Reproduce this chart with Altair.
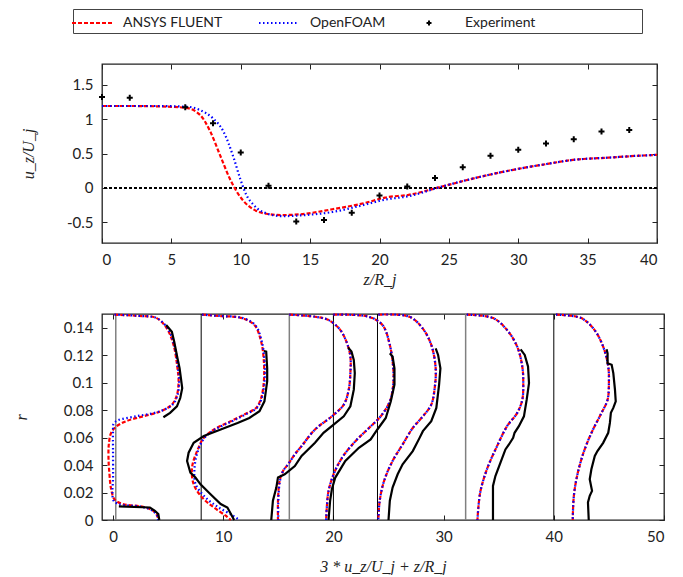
import altair as alt
import pandas as pd

# ---------------- top panel: centreline velocity ----------------
FLUENT_Z = [0, 2, 4, 6, 7.07, 7.8, 8.5, 9.2, 9.7, 10.2, 10.9, 11.85, 13, 14.2, 16.6, 19, 20.4, 22.1, 24.5, 26.9, 29.3, 31.7, 34.1, 36.5, 38.9, 40]
FLUENT_U = [1.19, 1.19, 1.185, 1.165, 1.06, 0.82, 0.48, 0.14, -0.05, -0.19, -0.31, -0.375, -0.394, -0.385, -0.31, -0.216, -0.14, -0.1, 0.02, 0.144, 0.25, 0.336, 0.41, 0.44, 0.47, 0.48]
OPENFOAM_Z = [0, 2, 4, 6, 6.5, 7.07, 8.0, 8.75, 9.5, 9.95, 10.4, 10.9, 11.6, 13, 14.2, 16.6, 19, 20.4, 22.1, 24.5, 26.9, 29.3, 31.7, 34.1, 36.5, 38.9, 40]
OPENFOAM_U = [1.19, 1.19, 1.19, 1.18, 1.17, 1.13, 1.01, 0.82, 0.43, 0.14, -0.1, -0.24, -0.35, -0.41, -0.40, -0.35, -0.24, -0.17, -0.12, 0.02, 0.144, 0.25, 0.336, 0.41, 0.44, 0.47, 0.48]
EXP_Z = [0, 2, 6, 8, 10, 12, 14, 16, 18, 20, 22, 24, 26, 28, 30, 32, 34, 36, 38]
EXP_U = [1.32, 1.31, 1.17, 0.94, 0.515, 0.03, -0.486, -0.466, -0.36, -0.11, 0.02, 0.144, 0.30, 0.466, 0.553, 0.645, 0.707, 0.818, 0.84]

TOP_X_TICKS = [0, 5, 10, 15, 20, 25, 30, 35, 40]
TOP_Y_TICKS = [-0.5, 0, 0.5, 1, 1.5]
SERIES = ["ANSYS FLUENT", "OpenFOAM", "Experiment"]

# ---------------- bottom panel: radial profiles (x = 3*u/Uj + z/Rj) ----------------
GRAY_LINES_Z = [0.25, 16, 32]
BLACK_LINES_Z = [8, 20, 24, 40]

F1_X = [0.14, 2.13, 3.96, 4.88, 5.49, 5.85, 5.95, 5.8, 5.34, 4.27, 2.73, 1.21, 0.29, -0.17, -0.38, -0.41, -0.32, -0.17, 0.14, 0.9, 2.73, 3.65, 4.02, 4.1]
F1_R = [0.1495, 0.1487, 0.147, 0.1395, 0.1275, 0.1105, 0.101, 0.091, 0.084, 0.079, 0.0755, 0.072, 0.068, 0.0635, 0.055, 0.045, 0.033, 0.0225, 0.015, 0.0116, 0.0096, 0.0067, 0.003, 0.0]
O1_X = [0.14, 2.13, 3.96, 4.95, 5.55, 5.9, 6.0, 5.85, 5.4, 4.2, 2.1, 0.44, 0.05, 0.0, 0.0, 0.0, -0.05, 0.05, 0.5, 2.6, 3.6, 4.0, 4.1]
O1_R = [0.1495, 0.1487, 0.147, 0.1395, 0.1275, 0.1105, 0.101, 0.091, 0.084, 0.079, 0.0755, 0.0726, 0.07, 0.065, 0.05, 0.03, 0.02, 0.014, 0.0116, 0.0096, 0.0067, 0.003, 0.0]
E1A_X = [4.57, 5.18, 5.8, 6.1, 6.28, 6.16, 6.04, 5.85, 5.55, 5.34, 4.82]
E1A_R = [0.0748, 0.078, 0.0828, 0.0888, 0.096, 0.1033, 0.1105, 0.1178, 0.13, 0.137, 0.142]
E1B_X = [0.53, 3.35, 3.8, 4.11, 4.2]
E1B_R = [0.0099, 0.0091, 0.0067, 0.0043, 0.0]

F2_X = [8.09, 9.77, 11.6, 12.83, 13.44, 13.69, 13.69, 13.44, 12.98, 11.9, 10.69, 9.16, 8.24, 7.63, 7.17, 7.32, 8.09, 9.16, 10.23, 10.69]
F2_R = [0.1495, 0.1485, 0.1472, 0.142, 0.13, 0.1154, 0.101, 0.0888, 0.0816, 0.0768, 0.0719, 0.0659, 0.0598, 0.0502, 0.0381, 0.026, 0.0164, 0.0091, 0.0031, 0.0]
O2_X = [8.09, 9.8, 11.7, 12.9, 13.5, 13.75, 13.75, 13.5, 13.05, 12.0, 10.8, 9.25, 8.3, 7.7, 7.4, 7.5, 8.4, 9.6, 10.9, 11.45]
O2_R = [0.1495, 0.1485, 0.1472, 0.142, 0.13, 0.1154, 0.101, 0.0888, 0.0816, 0.0768, 0.0719, 0.0659, 0.0598, 0.0502, 0.0381, 0.026, 0.0164, 0.0091, 0.0031, 0.0]
E2_X = [13.69, 13.9, 13.99, 13.99, 13.74, 13.29, 12.37, 11.3, 9.77, 8.24, 7.32, 6.86, 6.72, 7.02, 7.48, 7.94, 8.85, 9.77, 10.38, 10.99]
E2_R = [0.1231, 0.1226, 0.1105, 0.101, 0.0864, 0.0792, 0.0743, 0.0707, 0.0659, 0.0611, 0.0562, 0.049, 0.043, 0.0345, 0.0309, 0.026, 0.0188, 0.0116, 0.0091, 0.0]

F3_X = [16.0, 18.33, 19.56, 20.63, 21.24, 21.54, 21.54, 21.39, 20.94, 19.86, 18.33, 17.11, 16.5, 15.89, 15.43, 15.12, 14.97, 14.97]
F3_R = [0.1495, 0.148, 0.1456, 0.1383, 0.1286, 0.119, 0.107, 0.0949, 0.084, 0.0755, 0.0659, 0.0538, 0.0478, 0.0406, 0.0357, 0.0285, 0.014, 0.0]
O3_X = [16.0, 18.33, 19.56, 20.63, 21.24, 21.54, 21.54, 21.39, 20.94, 19.86, 18.33, 17.11, 16.5, 15.89, 15.43, 15.15, 15.0, 15.0]
O3_R = [0.1495, 0.148, 0.1456, 0.1383, 0.1286, 0.119, 0.107, 0.0949, 0.084, 0.0755, 0.0659, 0.0538, 0.0478, 0.0406, 0.0357, 0.0285, 0.014, 0.0]
E3_X = [21.33, 21.64, 21.85, 21.94, 21.85, 21.54, 20.94, 20.02, 19.1, 18.33, 17.11, 16.5, 15.58, 14.97, 14.82, 14.51, 14.36]
E3_R = [0.1257, 0.1226, 0.1166, 0.107, 0.0949, 0.0828, 0.0755, 0.0695, 0.0635, 0.0562, 0.0466, 0.0393, 0.0333, 0.0309, 0.0236, 0.014, 0.0]

F4_X = [20.0, 23.2, 24.45, 25.12, 25.43, 25.43, 25.12, 24.29, 23.23, 22.0, 20.78, 20.02, 19.56, 19.4, 19.34]
F4_R = [0.1495, 0.148, 0.142, 0.1275, 0.1105, 0.0985, 0.0864, 0.0755, 0.067, 0.0574, 0.0453, 0.0333, 0.0212, 0.0091, 0.0]
O4_X = [20.0, 23.2, 24.45, 25.12, 25.43, 25.43, 25.12, 24.29, 23.23, 22.0, 20.78, 20.02, 19.56, 19.4, 19.34]
O4_R = [0.1495, 0.148, 0.142, 0.1275, 0.1105, 0.0985, 0.0864, 0.0755, 0.067, 0.0574, 0.0453, 0.0333, 0.0212, 0.0091, 0.0]
E4_X = [25.12, 25.37, 25.54, 25.54, 25.21, 24.75, 23.99, 23.38, 22.31, 21.08, 20.17, 19.86, 19.7, 19.56]
E4_R = [0.1214, 0.119, 0.1105, 0.0985, 0.0864, 0.0743, 0.0659, 0.0587, 0.0526, 0.043, 0.0309, 0.0224, 0.014, 0.0]

F5_X = [24.08, 26.9, 28.1, 28.88, 29.28, 29.19, 28.88, 28.12, 27.2, 26.28, 25.37, 24.6, 24.2, 24.08]
F5_R = [0.1495, 0.148, 0.1395, 0.1275, 0.1105, 0.096, 0.084, 0.0755, 0.067, 0.055, 0.043, 0.0285, 0.014, 0.0]
O5_X = [24.08, 26.9, 28.1, 28.88, 29.28, 29.19, 28.88, 28.12, 27.2, 26.28, 25.37, 24.6, 24.2, 24.08]
O5_R = [0.1495, 0.148, 0.1395, 0.1275, 0.1105, 0.096, 0.084, 0.0755, 0.067, 0.055, 0.043, 0.0285, 0.014, 0.0]
E5_X = [29.28, 29.5, 29.71, 29.59, 29.34, 28.88, 28.12, 27.82, 27.2, 26.28, 25.83, 25.37, 25.12, 25.0]
E5_R = [0.125, 0.1202, 0.1105, 0.0985, 0.0816, 0.0719, 0.0647, 0.0598, 0.0502, 0.0406, 0.0333, 0.0236, 0.014, 0.0]

F6_X = [32.1, 34.5, 35.76, 36.68, 37.14, 37.23, 37.14, 36.68, 35.76, 34.85, 33.93, 33.32, 33.07]
F6_R = [0.1495, 0.147, 0.1383, 0.1262, 0.1118, 0.0997, 0.0876, 0.078, 0.0683, 0.0538, 0.0369, 0.02, 0.0]
O6_X = [32.1, 34.5, 35.76, 36.68, 37.14, 37.23, 37.14, 36.68, 35.76, 34.85, 33.93, 33.32, 33.07]
O6_R = [0.1495, 0.147, 0.1383, 0.1262, 0.1118, 0.0997, 0.0876, 0.078, 0.0683, 0.0538, 0.0369, 0.02, 0.0]
E6_X = [36.99, 37.36, 37.66, 37.75, 37.54, 37.29, 36.83, 36.44, 36.31, 35.93, 35.61, 35.16, 34.7, 34.48, 34.48]
E6_R = [0.1243, 0.1202, 0.1118, 0.0997, 0.0876, 0.0755, 0.0683, 0.0635, 0.0598, 0.055, 0.0514, 0.0417, 0.032, 0.0248, 0.0]

F7_X = [40.2, 42.5, 43.7, 44.48, 44.94, 45.0, 44.88, 44.33, 43.56, 42.8, 42.18, 41.82, 41.72]
F7_R = [0.1495, 0.147, 0.1383, 0.1262, 0.1118, 0.0997, 0.0876, 0.078, 0.0659, 0.0514, 0.0345, 0.0176, 0.0]
O7_X = [40.2, 42.5, 43.7, 44.48, 44.94, 45.0, 44.88, 44.33, 43.56, 42.8, 42.18, 41.82, 41.72]
O7_R = [0.1495, 0.147, 0.1383, 0.1262, 0.1118, 0.0997, 0.0876, 0.078, 0.0659, 0.0514, 0.0345, 0.0176, 0.0]
E7_X = [44.79, 44.88, 44.88, 45.25, 45.4, 45.55, 45.62, 45.4, 45.18, 45.09, 44.94, 44.48, 43.96, 43.72, 43.41, 43.26, 43.47, 43.26, 43.1, 43.17]
E7_R = [0.1243, 0.1214, 0.1142, 0.113, 0.107, 0.0949, 0.0864, 0.0816, 0.078, 0.0707, 0.0635, 0.0562, 0.0502, 0.0466, 0.0369, 0.0297, 0.0212, 0.0176, 0.0128, 0.0]

BOT_X_TICKS = [0, 10, 20, 30, 40, 50]
BOT_Y_TICKS = [0, 0.02, 0.04, 0.06, 0.08, 0.1, 0.12, 0.14]

# ---------------- build tables ----------------
sim_rows = []
for name, zs, us in [(SERIES[0], FLUENT_Z, FLUENT_U), (SERIES[1], OPENFOAM_Z, OPENFOAM_U)]:
    for i, (z, u) in enumerate(zip(zs, us)):
        sim_rows.append({"series": name, "z": z, "u": u, "i": i})
sim_df = pd.DataFrame(sim_rows)
exp_df = pd.DataFrame({"series": SERIES[2], "z": EXP_Z, "u": EXP_U})

prof_rows = []
def add_profile(src, key, xs, rs):
    for i, (x, r) in enumerate(zip(xs, rs)):
        prof_rows.append({"src": src, "key": key, "i": i, "x": x, "r": r})

for k, (fx, fr, ox, orr) in enumerate([
    (F1_X, F1_R, O1_X, O1_R), (F2_X, F2_R, O2_X, O2_R), (F3_X, F3_R, O3_X, O3_R),
    (F4_X, F4_R, O4_X, O4_R), (F5_X, F5_R, O5_X, O5_R), (F6_X, F6_R, O6_X, O6_R),
    (F7_X, F7_R, O7_X, O7_R)]):
    add_profile("FLUENT", f"s{k}", fx, fr)
    add_profile("OpenFOAM", f"s{k}", ox, orr)
for key, ex, er in [("s0a", E1A_X, E1A_R), ("s0b", E1B_X, E1B_R), ("s1", E2_X, E2_R),
                    ("s2", E3_X, E3_R), ("s3", E4_X, E4_R), ("s4", E5_X, E5_R),
                    ("s5", E6_X, E6_R), ("s6", E7_X, E7_R)]:
    add_profile("Experiment", key, ex, er)
prof_df = pd.DataFrame(prof_rows)
gray_df = pd.DataFrame({"z": GRAY_LINES_Z})
black_df = pd.DataFrame({"z": BLACK_LINES_Z})

# ---------------- styling helpers ----------------
TICK_FONT = "Lato"
TITLE_FONT = "Liberation Serif"
W_TOP = 555
W_BOT = 562
H_TOP = 179
H_BOT = 206
LINE_SYM = "M-1.5,0H2.5"
PLUS = "M-0.25,0H0.25M0,-0.25V0.25"


def axis_layers(df, xf, yf, xscale, yscale, xticks, yticks, w, h, xtitle, ytitle,
                ytitle_pad, xtitle_pad):
    base = alt.Chart(df).mark_point(opacity=0)
    common = dict(grid=False, domain=False)
    lab = base.encode(
        x=alt.X(xf, type="quantitative", scale=xscale,
                axis=alt.Axis(values=xticks, ticks=False, title=xtitle, labelExpr="toString(datum.value)",
                              labelFont=TICK_FONT, labelFontSize=15, labelColor="#222", labelPadding=9,
                              titleFont=TITLE_FONT, titleFontStyle="italic", titleFontWeight="normal",
                              titleFontSize=16, titleColor="#222", titlePadding=xtitle_pad, **common)),
        y=alt.Y(yf, type="quantitative", scale=yscale,
                axis=alt.Axis(values=yticks, ticks=False, title=ytitle, labelExpr="toString(datum.value)",
                              labelFont=TICK_FONT, labelFontSize=15, labelColor="#222", labelPadding=9,
                              titleFont=TITLE_FONT, titleFontStyle="italic", titleFontWeight="normal",
                              titleFontSize=16, titleColor="#222", titlePadding=ytitle_pad, **common)),
    )
    tk = dict(labels=False, ticks=True, tickSize=5, tickColor="#222", tickWidth=1, title=None, **common)
    t1 = base.encode(
        x=alt.X(xf, type="quantitative", scale=xscale, axis=alt.Axis(orient="top", offset=-h, values=xticks, **tk)),
        y=alt.Y(yf, type="quantitative", scale=yscale, axis=alt.Axis(orient="right", offset=-w, values=yticks, **tk)),
    )
    t2 = base.encode(
        x=alt.X(xf, type="quantitative", scale=xscale, axis=alt.Axis(orient="bottom", offset=-h, values=xticks, **tk)),
        y=alt.Y(yf, type="quantitative", scale=yscale, axis=alt.Axis(orient="left", offset=-w, values=yticks, **tk)),
    )
    return [lab, t1, t2]


EM = "\u2003"
LEG = alt.Legend(title=EM, titleOrient="right", titlePadding=104, titleFontSize=14,
                 orient="none", legendX=-29, legendY=-55, direction="horizontal",
                 columns=3, gridAlign="each", columnPadding=32, symbolSize=400, symbolStrokeWidth=2,
                 labelFont=TICK_FONT, labelFontSize=14, labelColor="#222", labelOffset=25,
                 labelLimit=400, strokeColor="#444", padding=3)

# ---------------- top chart ----------------
xs_top = alt.Scale(domain=[0, 40], nice=False, zero=False)
ys_top = alt.Scale(domain=[-0.8, 1.8], nice=False, zero=False)

zero_rule = alt.Chart(exp_df).mark_rule(color="black", strokeDash=[3, 2], strokeWidth=0.8).encode(
    y=alt.YDatum(0, axis=None, scale=ys_top)
)
sim_lines = alt.Chart(sim_df).mark_line(strokeWidth=2.2, interpolate="monotone").encode(
    x=alt.X("z:Q", scale=xs_top, axis=None),
    y=alt.Y("u:Q", scale=ys_top, axis=None),
    color=alt.Color("series:N", scale=alt.Scale(domain=SERIES, range=["#ff0000", "#0000ff", "#000000"]), legend=LEG),
    strokeDash=alt.StrokeDash("series:N", scale=alt.Scale(domain=SERIES, range=[[4, 2], [1.5, 2.5], [1, 0]]), legend=LEG),
    order="i:Q",
)
exp_pts = alt.Chart(exp_df).mark_point(filled=False, color="black", strokeWidth=2, size=576, opacity=1).encode(
    x=alt.X("z:Q", scale=xs_top, axis=None),
    y=alt.Y("u:Q", scale=ys_top, axis=None),
    shape=alt.Shape("series:N", scale=alt.Scale(domain=SERIES, range=[LINE_SYM, LINE_SYM, PLUS]), legend=LEG),
)
top = alt.layer(
    *axis_layers(exp_df, "z", "u", xs_top, ys_top, TOP_X_TICKS, TOP_Y_TICKS, W_TOP, H_TOP,
                 "z/R_j", "u_z/U_j", 30, 4),
    zero_rule, sim_lines, exp_pts,
).resolve_axis(x="independent", y="independent").properties(width=W_TOP, height=H_TOP)

# ---------------- bottom chart ----------------
xs_bot = alt.Scale(domain=[-1, 50], nice=False, zero=False)
ys_bot = alt.Scale(domain=[0, 0.15], nice=False, zero=False)

gray_rules = alt.Chart(gray_df).mark_rule(color="#808080", strokeWidth=1.5).encode(
    x=alt.X("z:Q", scale=xs_bot, axis=None))
black_rules = alt.Chart(black_df).mark_rule(color="#000000", strokeWidth=1).encode(
    x=alt.X("z:Q", scale=xs_bot, axis=None))

def prof_layer(src, color, dash, interp):
    kw = dict(color=color, strokeWidth=2.2, interpolate=interp)
    if dash:
        kw["strokeDash"] = dash
    return alt.Chart(prof_df).transform_filter(alt.datum.src == src).mark_line(**kw).encode(
        x=alt.X("x:Q", scale=xs_bot, axis=None),
        y=alt.Y("r:Q", scale=ys_bot, axis=None),
        detail="key:N",
        order="i:Q",
    )

bottom = alt.layer(
    *axis_layers(prof_df, "x", "r", xs_bot, ys_bot, BOT_X_TICKS, BOT_Y_TICKS, W_BOT, H_BOT,
                 "3 * u_z/U_j + z/R_j", "r", 34, 14),
    gray_rules, black_rules,
    prof_layer("FLUENT", "#ff0000", [4, 2], "catmull-rom"),
    prof_layer("OpenFOAM", "#0000ff", [1.5, 2.5], "catmull-rom"),
    prof_layer("Experiment", "#000000", None, "linear"),
).resolve_axis(x="independent", y="independent").properties(width=W_BOT, height=H_BOT)

chart = alt.concat(top, bottom, columns=1, spacing=21, align="none").properties(
    padding={"left": 4, "top": 0, "right": 5, "bottom": 0}
).configure_view(stroke="#222", strokeWidth=1.3)

chart.save("out.html", embed_options={"renderer": "svg", "actions": False})
